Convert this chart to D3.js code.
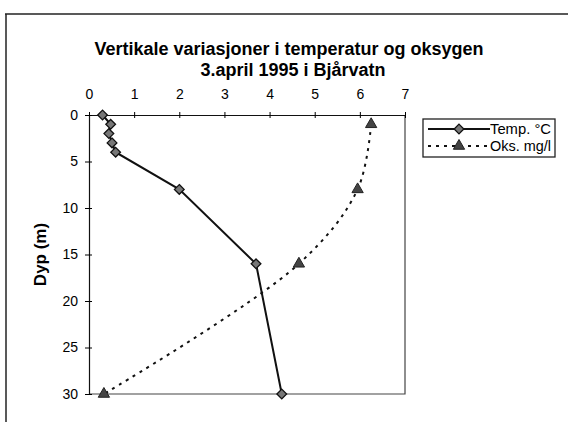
<!DOCTYPE html>
<html><head><meta charset="utf-8">
<script src="https://cdn.jsdelivr.net/npm/d3@7"></script>
<style>body{margin:0;background:#fff}svg{display:block}text{font-family:"Liberation Sans",Arial,sans-serif}</style>
</head><body><svg id="c" width="568" height="422"></svg>
<script>
const titleLines = ["Vertikale variasjoner i temperatur og oksygen", "3.april 1995 i Bjårvatn"];
const xTicks = [0,1,2,3,4,5,6,7];
const yTicks = [0,5,10,15,20,25,30];
const tempDepth = [0,1,2,3,4,8,16,30];
const tempValue = [0.3,0.48,0.44,0.51,0.59,2.0,3.7,4.27];
const oxyDepth = [1,8,16,30];
const oxyValue = [6.25,5.95,4.65,0.33];
const seriesNames = ["Temp. °C","Oks. mg/l"];

const svg = d3.select("#c");
const x = d3.scaleLinear().domain([0,7]).range([89,405]);
const y = d3.scaleLinear().domain([0,30]).range([115,394]);

// outer frame (top and left edges)
svg.append("line").attr("x1",5).attr("x2",568).attr("y1",14).attr("y2",14).attr("stroke","#222").attr("stroke-width",1.5);
svg.append("line").attr("x1",6).attr("x2",6).attr("y1",14).attr("y2",422).attr("stroke","#222").attr("stroke-width",1.5);

// title
svg.append("text").attr("x",289).attr("y",55).attr("text-anchor","middle").attr("font-size",18).attr("font-weight","bold").text(titleLines[0]);
svg.append("text").attr("x",293).attr("y",76).attr("text-anchor","middle").attr("font-size",18).attr("font-weight","bold").text(titleLines[1]);

// plot border (right and bottom)
svg.append("path").attr("d",`M${x(7)},${y(0)}V${y(30)}H${x(0)}`).attr("fill","none").attr("stroke","#444").attr("stroke-width",1.2);

const fmt = d3.format("d");
// x axis at top
const xa = svg.append("g").attr("transform",`translate(0,${y(0)})`).call(d3.axisTop(x).tickValues(xTicks).tickFormat(fmt).tickSizeInner(4).tickSizeOuter(0).tickPadding(12));
xa.selectAll(".tick line").attr("y2",3).attr("y1",-3);
xa.selectAll("text").attr("font-size",14).attr("fill","#000").style("font-family","Liberation Sans, Arial");
xa.select(".domain").attr("stroke","#111").attr("stroke-width",1.2);

const ya = svg.append("g").attr("transform",`translate(${x(0)},0)`).call(d3.axisLeft(y).tickValues(yTicks).tickFormat(fmt).tickSizeInner(4).tickSizeOuter(0).tickPadding(7));
ya.selectAll(".tick line").attr("x1",3).attr("x2",-4);
ya.selectAll("text").attr("font-size",14).attr("fill","#000").style("font-family","Liberation Sans, Arial");
ya.select(".domain").attr("stroke","#111").attr("stroke-width",1.2);

// y title
svg.append("text").attr("transform",`translate(46,${y(15)}) rotate(-90)`).attr("text-anchor","middle").attr("font-size",17).attr("font-weight","bold").text("Dyp (m)");

// oxygen line (smoothed, dashed)
const oxy = oxyDepth.map((d,i)=>({d, v:oxyValue[i]}));
svg.append("path").datum(oxy).attr("d",d3.line().x(p=>x(p.v)).y(p=>y(p.d)).curve(d3.curveCatmullRom.alpha(0.5)))
  .attr("fill","none").attr("stroke","#111").attr("stroke-width",2).attr("stroke-dasharray","3,5");

// temp line
const temp = tempDepth.map((d,i)=>({d, v:tempValue[i]}));
svg.append("path").datum(temp).attr("d",d3.line().x(p=>x(p.v)).y(p=>y(p.d)))
  .attr("fill","none").attr("stroke","#111").attr("stroke-width",2);

const diamond = d3.symbol().type(d3.symbolDiamond2).size(60);
const tri = d3.symbol().type(d3.symbolTriangle).size(55);
svg.selectAll(".dm").data(temp).join("path").attr("d",diamond).attr("transform",p=>`translate(${x(p.v)},${y(p.d)})`)
  .attr("fill","#777").attr("stroke","#111").attr("stroke-width",1.3);
svg.selectAll(".tr").data(oxy).join("path").attr("d",tri).attr("transform",p=>`translate(${x(p.v)},${y(p.d)})`)
  .attr("fill","#444").attr("stroke","#222").attr("stroke-width",1);

// legend
const lg = svg.append("g");
lg.append("rect").attr("x",423).attr("y",119).attr("width",132).attr("height",38).attr("fill","#fff").attr("stroke","#222").attr("stroke-width",1.3);
lg.append("line").attr("x1",428).attr("x2",490).attr("y1",129).attr("y2",129).attr("stroke","#111").attr("stroke-width",2);
lg.append("path").attr("d",diamond).attr("transform","translate(459,129)").attr("fill","#777").attr("stroke","#111").attr("stroke-width",1.3);
lg.append("text").attr("x",490).attr("y",134).attr("font-size",14).attr("textLength",61).attr("lengthAdjust","spacingAndGlyphs").text(seriesNames[0]);
lg.append("line").attr("x1",428).attr("x2",490).attr("y1",146).attr("y2",146).attr("stroke","#111").attr("stroke-width",2).attr("stroke-dasharray","3,5");
lg.append("path").attr("d",tri).attr("transform","translate(459,146)").attr("fill","#444").attr("stroke","#222");
lg.append("text").attr("x",490).attr("y",151).attr("font-size",14).attr("textLength",61).attr("lengthAdjust","spacingAndGlyphs").text(seriesNames[1]);
</script></body></html>
